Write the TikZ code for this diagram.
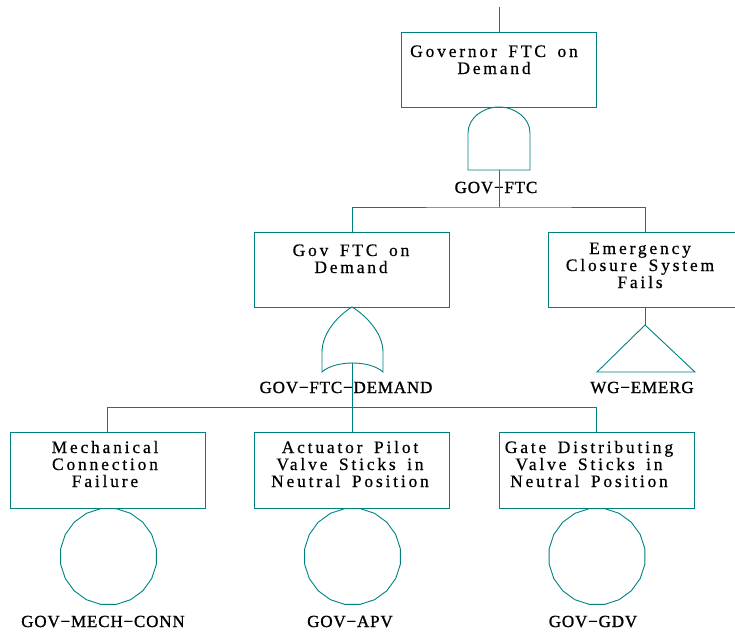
\documentclass[tikz,border=0pt]{standalone}
\usepackage{fontspec}
\usetikzlibrary{shapes.geometric}
\newfontfamily\boxfont[LetterSpace=16,WordSpace=1.6,FakeBold=0.6]{Liberation Serif}
\newfontfamily\tagfont[LetterSpace=5,FakeBold=1.2]{Liberation Serif}
\definecolor{ftline}{RGB}{0,128,128}

\tikzset{
  ft/.style={draw=ftline, line width=0.9pt},
  evbox/.style={ft, rectangle, minimum width=195pt, minimum height=75pt, inner sep=0pt},
  evtext/.style={font=\boxfont\fontsize{17.5}{17}\selectfont, align=center, anchor=base, inner sep=0pt},
  tag/.style={font=\tagfont\fontsize{17}{17}\selectfont, anchor=base, inner sep=0pt},
  basic/.style={ft, regular polygon, regular polygon sides=20, minimum size=97pt, inner sep=0pt},
}

\begin{document}
\begin{tikzpicture}[x=1pt, y=-1pt]
\useasboundingbox (0,0) rectangle (735,633);

% top event (text nodes are placed by the baseline of their last line)
\coordinate (root) at (499,7);
\node[evbox] (top) at (499,69.5) {};
\node[evtext] (topt) at (494,74) {Governor FTC on\\Demand};
\draw[ft] (root) -- (top.north);

% AND gate under the top event
\coordinate (andin) at (499,107);
\coordinate (andout) at (499,170);
\draw[ft] (468,170) -- (468,133) .. controls (468,118) and (483,107) .. (andin)
  .. controls (515,107) and (530,118) .. (530,133) -- (530,170) -- cycle;
\node[tag] (ftc) at (496,193) {GOV−FTC};

% second level events
\node[evbox] (mid) at (352,269.5) {};
\node[evtext] (midt) at (351,273) {Gov FTC on\\Demand};
\node[evbox, minimum width=194pt] (emerg) at (645,269.5) {};
\node[evtext] (emergt) at (640,288) {Emergency\\Closure System\\Fails};

\coordinate (bus1) at (499,207);
\draw[ft] (andout) -- (bus1);
\draw[ft] (mid.north) |- (bus1) -| (emerg.north);

% transfer triangle
\coordinate (tri) at (645,325);
\draw[ft] (emerg.south) -- (tri);
\draw[ft] (tri) -- (695,372) -- (597,372) -- cycle;
\node[tag] (wg) at (642,393) {WG−EMERG};

% OR gate
\coordinate (orin) at (352,307);
\coordinate (orout) at (352,363);
\draw[ft] (322,372) -- (322,352) .. controls (322,332) and (340,314) .. (orin)
  .. controls (364,314) and (383,332) .. (383,352) -- (383,372)
  .. controls (370,360) and (335,360) .. (322,372) -- cycle;
\node[tag] (ftcd) at (346,393) {GOV−FTC−DEMAND};

% basic events
\node[evbox, minimum height=76pt] (mech) at (107.5,470) {};
\node[evtext] (mecht) at (105,487) {Mechanical\\Connection\\Failure};
\node[evbox, minimum height=76pt] (apv) at (352,470) {};
\node[evtext] (apvt) at (350,487) {Actuator Pilot\\Valve Sticks in\\Neutral Position};
\node[evbox, minimum height=76pt] (gdv) at (596.5,470) {};
\node[evtext] (gdvt) at (589,487) {Gate Distributing\\Valve Sticks in\\Neutral Position};

\coordinate (bus2) at (352,407);
\draw[ft] (orout) -- (bus2);
\draw[ft] (mech.north) |- (bus2) -| (gdv.north);
\draw[ft] (bus2) -- (apv.north);

\node[basic] (mechc) at (108.5,556.5) {};
\node[basic] (apvc) at (352.5,556.5) {};
\node[basic] (gdvc) at (597,556.5) {};

\node[tag] (mecht2) at (103,627) {GOV−MECH−CONN};
\node[tag] (apvt2) at (350,627) {GOV−APV};
\node[tag] (gdvt2) at (593,627) {GOV−GDV};
\end{tikzpicture}
\end{document}
